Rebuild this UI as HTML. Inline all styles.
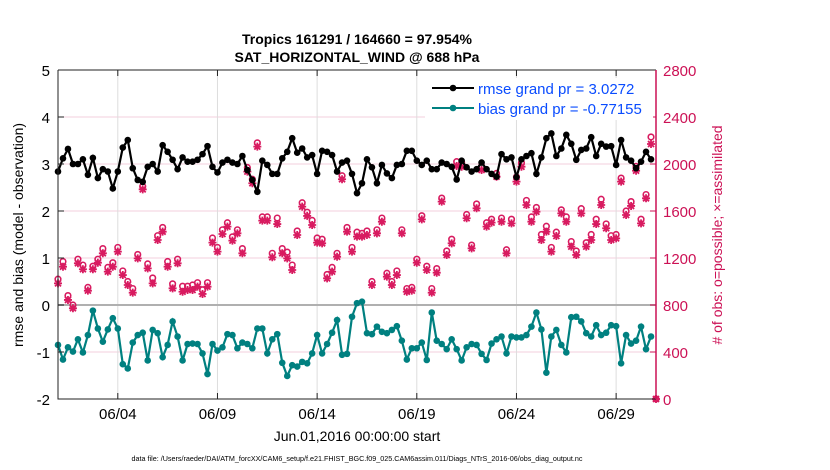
<!DOCTYPE html>
<html><head><meta charset="utf-8"><style>
body{margin:0;background:#fff;font-family:"Liberation Sans",sans-serif}
svg{display:block}
</style></head><body>
<svg id="chart" width="830" height="470" xmlns="http://www.w3.org/2000/svg">
<text x="357" y="44" text-anchor="middle" font-size="14" font-weight="bold">Tropics 161291 / 164660 = 97.954%</text>
<text x="357" y="62" text-anchor="middle" font-size="14" font-weight="bold">SAT_HORIZONTAL_WIND @ 688 hPa</text>
<g id="grid"></g><g id="marks"></g><g id="axes"></g>
<text transform="translate(23,235) rotate(-90)" text-anchor="middle" font-size="14">rmse and bias (model - observation)</text>
<text transform="translate(722,235) rotate(-90)" text-anchor="middle" font-size="14" fill="#cc1155"># of obs: o=possible; ×=assimilated</text>
<text x="357" y="441" text-anchor="middle" font-size="14">Jun.01,2016 00:00:00 start</text>
<text x="357" y="461" text-anchor="middle" font-size="7.2">data file: /Users/raeder/DAI/ATM_forcXX/CAM6_setup/f.e21.FHIST_BGC.f09_025.CAM6assim.011/Diags_NTrS_2016-06/obs_diag_output.nc</text>
<g>
<rect x="425" y="78" width="228" height="42" fill="#fff"/>
<line x1="432" y1="88" x2="474" y2="88" stroke="#000" stroke-width="2"/><circle cx="453" cy="88" r="3.3" fill="#000"/>
<line x1="432" y1="108" x2="474" y2="108" stroke="#008080" stroke-width="2"/><circle cx="453" cy="108" r="3.3" fill="#008080"/>
<text x="478" y="94" font-size="15" fill="#0a4cff">rmse grand pr = 3.0272</text>
<text x="478" y="114" font-size="15" fill="#0a4cff">bias grand pr = -0.77155</text>
</g>
</svg>
<script>
const leftTicks=[5,4,3,2,1,0,-1,-2];
const rightTicks=[2800,2400,2000,1600,1200,800,400,0];
const xTickDays=[3,8,13,18,23,28];
const xTickLabels=["06/04","06/09","06/14","06/19","06/24","06/29"];
const rmse=[2.84,3.12,3.32,3.0,3.0,3.1,2.77,3.13,2.70,2.89,2.84,2.48,2.84,3.35,3.51,2.91,2.66,2.62,2.94,3.0,2.84,3.40,3.26,3.09,2.89,3.14,3.05,3.05,3.09,3.21,3.38,
2.94,2.82,3.03,3.09,3.03,3.0,3.17,2.87,2.66,2.41,3.07,2.98,2.79,2.79,3.12,3.26,3.55,3.24,3.33,3.14,3.19,2.79,3.28,3.26,3.19,2.84,3.03,3.07,2.79,2.38,
2.59,3.10,2.93,2.59,2.98,2.80,2.70,2.98,3.0,3.28,3.28,3.07,2.98,3.07,2.89,2.89,3.03,3.0,2.94,2.67,3.07,2.93,2.84,2.89,3.03,2.89,2.79,2.73,3.21,3.10,
3.14,2.72,3.10,3.17,3.23,2.79,3.14,3.55,3.65,3.17,3.33,3.62,3.43,3.09,3.30,3.33,3.57,3.17,3.43,3.37,3.38,2.98,3.51,3.14,3.07,2.91,3.05,3.26,3.10];
const bias=[-0.85,-1.16,-0.90,-0.99,-0.73,-1.01,-0.64,-0.12,-0.50,-0.78,-0.52,-0.28,-0.50,-1.26,-1.35,-0.80,-0.64,-0.59,-1.18,-0.53,-0.60,-1.11,-0.85,-0.35,-0.67,-1.18,-0.83,-0.82,-0.83,-1.03,-1.47,
-0.83,-0.97,-0.90,-0.62,-0.64,-0.92,-0.80,-0.83,-0.92,-0.50,-0.50,-1.03,-0.73,-0.62,-1.23,-1.51,-1.28,-1.31,-1.21,-1.24,-1.03,-0.64,-1.03,-0.83,-0.59,-0.32,-1.06,-1.04,-0.25,0.04,
0.07,-0.60,-0.62,-0.46,-0.57,-0.60,-0.53,-0.45,-0.76,-1.16,-0.92,-0.92,-0.80,-1.17,-0.16,-0.76,-0.83,-0.94,-0.73,-0.94,-1.18,-0.90,-0.83,-0.85,-1.04,-1.17,-0.82,-0.73,-0.67,-1.03,
-0.67,-0.69,-0.69,-0.64,-0.46,-0.16,-0.52,-1.44,-0.67,-0.53,-0.85,-1.01,-0.26,-0.25,-0.35,-0.60,-0.67,-0.43,-0.64,-0.59,-0.43,-0.45,-1.24,-0.64,-0.82,-0.76,-0.46,-0.94,-0.67];
const assimilated=[984,1126,843,772,1155,1104,922,1104,1160,1240,1084,1126,1254,1055,970,905,1197,1784,1112,984,1353,1424,1126,942,1155,913,928,928,956,894,956,
1331,1254,1404,1467,1348,1410,1240,1935,1836,2148,1518,1518,1206,1489,1240,1197,1098,1396,1637,1558,1481,1331,1325,1027,1084,1211,1870,1424,1254,1382,
1382,1396,970,1410,1509,1041,970,1055,1410,913,922,1160,1529,1098,905,1075,1680,1226,1325,1983,1977,1538,1282,1623,1949,1467,1501,1892,1509,1240,
1495,1850,1977,1651,1509,1594,1353,1424,1254,1387,1580,1509,1297,1226,1580,1297,1353,1489,1651,1453,1353,1367,1850,1566,1643,1943,1495,1708,2170,0];
const possible=[1020,1170,880,800,1190,1140,950,1130,1190,1280,1120,1160,1290,1090,1000,940,1230,1810,1150,1030,1390,1460,1170,980,1190,960,960,970,990,930,990,
1370,1290,1440,1500,1380,1440,1280,1970,1870,2180,1550,1550,1240,1540,1280,1250,1140,1430,1670,1590,1520,1370,1360,1060,1120,1240,1900,1460,1290,1420,
1410,1430,1000,1440,1540,1070,1000,1090,1440,940,950,1190,1560,1130,940,1110,1710,1260,1360,2020,2010,1570,1310,1660,1980,1500,1530,1920,1540,1270,
1530,1890,2010,1690,1550,1630,1400,1470,1290,1420,1610,1550,1340,1260,1620,1330,1400,1530,1700,1490,1390,1400,1880,1600,1680,1980,1530,1740,2230,0];
const L=58,R=656,T=70,B=399;
const xs=d=>L+(d/30)*(R-L);
const yl=v=>T+(5-v)/7*(B-T);
const yr=c=>B-c/2800*(B-T);
const NS="http://www.w3.org/2000/svg";
function mk(tag,attrs,parent){const e=document.createElementNS(NS,tag);for(const k in attrs)e.setAttribute(k,attrs[k]);parent.appendChild(e);return e;}
const grid=document.getElementById('grid'),marks=document.getElementById('marks'),axes=document.getElementById('axes');
leftTicks.forEach(v=>{const l=mk('line',{x1:L,x2:R,y1:yl(v),y2:yl(v),stroke:'#f3cfdc','stroke-width':1},grid);


const t=mk('text',{x:L-8,y:yl(v)+6,'text-anchor':'end','font-size':15},axes);t.textContent=v;


mk('line',{x1:L,x2:L+6,y1:yl(v),y2:yl(v),stroke:'#222'},axes);});
rightTicks.forEach(c=>{const t=mk('text',{x:R+7,y:yr(c)+6,'font-size':15,fill:'#cc1155'},axes);t.textContent=c;


mk('line',{x1:R-6,x2:R,y1:yr(c),y2:yr(c),stroke:'#cc1155'},axes);});
xTickDays.forEach((d,i)=>{const l=mk('line',{x1:xs(d),x2:xs(d),y1:T,y2:B,stroke:'#dddddd'},grid);


mk('line',{x1:xs(d),x2:xs(d),y1:B-6,y2:B,stroke:'#222'},axes);
mk('line',{x1:xs(d),x2:xs(d),y1:T,y2:T+6,stroke:'#222'},axes);
const t=mk('text',{x:xs(d),y:B+20,'text-anchor':'middle','font-size':15},axes);t.textContent=xTickLabels[i];

});
const z=mk('line',{x1:L,x2:R,y1:yl(0),y2:yl(0),stroke:'#b0b0b0','stroke-width':2},grid);


const f=mk('path',{d:`M${L},${T}H${R}M${L},${T}V${B}H${R}`,fill:'none',stroke:'#222','stroke-width':1},axes);


const ra=mk('line',{x1:R,x2:R,y1:T,y2:B,stroke:'#cc1155','stroke-width':1.5},axes);


const red='#d81b60';
possible.forEach((c,i)=>{const x=xs(i*0.25),y=yr(c);const o=mk('circle',{cx:x,cy:y,r:2.8,fill:'none',stroke:red,'stroke-width':1.6},marks);

});
assimilated.forEach((c,i)=>{const x=xs(i*0.25),y=yr(c),s=4;
const p=mk('path',{d:`M${x-s},${y}H${x+s}M${x},${y-s}V${y+s}M${x-3},${y-3}L${x+3},${y+3}M${x-3},${y+3}L${x+3},${y-3}`,stroke:red,'stroke-width':1.8},marks);

});
function series(arr,color,name){const pts=arr.map((v,i)=>`${xs(i*0.25).toFixed(1)},${yl(v).toFixed(1)}`).join(' ');
const pl=mk('polyline',{points:pts,fill:'none',stroke:color,'stroke-width':2.2},marks);


arr.forEach((v,i)=>{const c=mk('circle',{cx:xs(i*0.25),cy:yl(v),r:3.3,fill:color},marks);

});}
series(rmse,'#000','rmse');
series(bias,'#008080','bias');
</script>
</body></html>
